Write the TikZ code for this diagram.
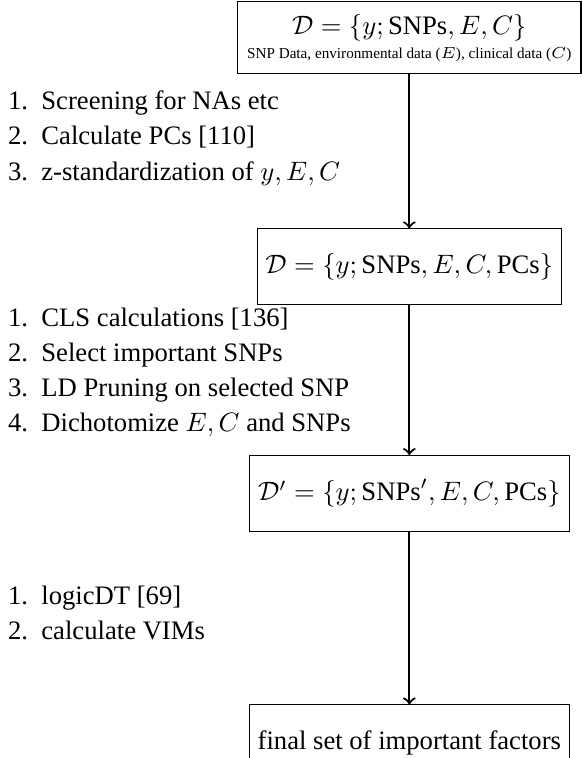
\documentclass[tikz,border=0pt]{standalone}
\usepackage{amsmath}
\usepackage{fontspec}
\setmainfont{Liberation Serif}
\usetikzlibrary{positioning}
\renewcommand{\arraystretch}{1.1}
\tikzset{
  databox/.style={draw, align=center, minimum height=1cm, inner sep=2pt},
  steps/.style={anchor=west, inner sep=0pt, align=left},
  flow/.style={->, thick},
}
\begin{document}
\begin{tikzpicture}
\useasboundingbox (0,0) rectangle (7.68,-10);
% data sets
\node[databox, minimum width=4.53cm, minimum height=0.95cm, inner xsep=1pt] (raw) at (5.40,-0.50) {$\mathcal{D}=\{y;\text{SNPs},E,C\}$\\[-3pt]{\fontsize{5.7}{6.5}\selectfont SNP Data, environmental data ($E$), clinical data ($C$)}};
\node[databox, minimum width=4.01cm] (pcs) at (5.40,-3.52) {$\mathcal{D}=\{y;\text{SNPs},E,C,\text{PCs}\}$};
\node[databox, minimum width=4.22cm] (pruned) at (5.40,-6.51) {$\mathcal{D}'=\{y;\text{SNPs}',E,C,\text{PCs}\}$};
\node[databox, minimum width=4.22cm] (factors) at (5.40,-9.80) {final set of important factors};
% arrows
\draw[flow] (raw) -- (pcs);
\draw[flow] (pcs) -- (pruned);
\draw[flow] (pruned) -- (factors);
% steps
\node[steps] (prep) at (0.1,-1.82) {\begin{tabular}{@{}r@{\hspace{5pt}}l@{}}
1. & Screening for NAs etc\\
2. & Calculate PCs [110]\\
3. & z-standardization of $y,E,C$
\end{tabular}};
\node[steps] (select) at (0.1,-4.91) {\begin{tabular}{@{}r@{\hspace{5pt}}l@{}}
1. & CLS calculations [136]\\
2. & Select important SNPs\\
3. & LD Pruning on selected SNP\\
4. & Dichotomize $E,C$ and SNPs
\end{tabular}};
\node[steps] (model) at (0.1,-8.11) {\begin{tabular}{@{}r@{\hspace{5pt}}l@{}}
1. & logicDT [69]\\
2. & calculate VIMs
\end{tabular}};
\end{tikzpicture}
\end{document}
